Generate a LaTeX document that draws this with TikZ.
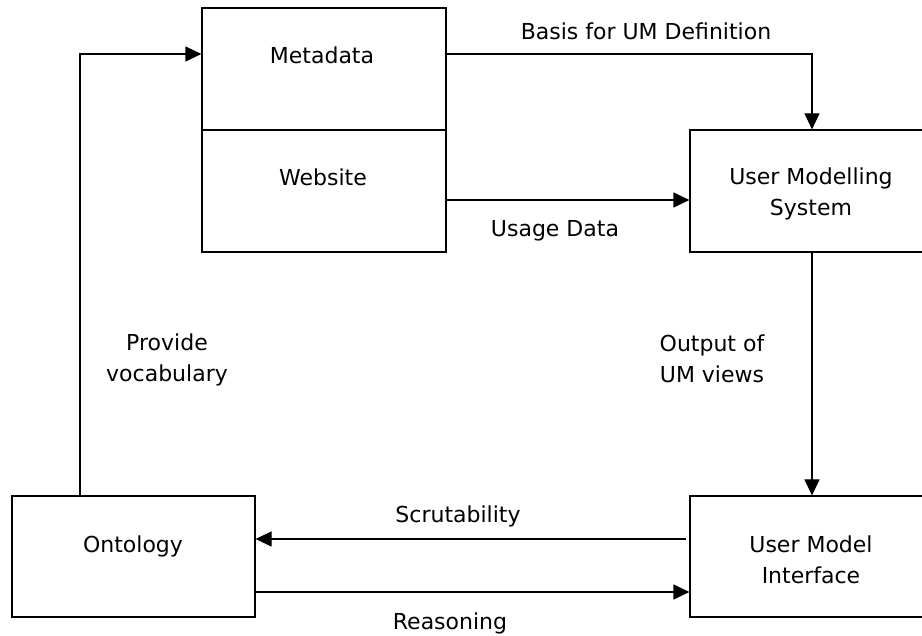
\documentclass[tikz,border=0pt]{standalone}
\usepackage{fontspec}
\setmainfont{DejaVu Sans}
\usetikzlibrary{arrows.meta}

\tikzset{
  box/.style={draw=black, line width=1.2pt, rectangle, inner sep=0pt},
  txt/.style={anchor=base, align=center, inner sep=0pt,
              font=\fontsize{22pt}{31pt}\selectfont},
  flow/.style={draw=black, line width=1.2pt,
               -{Triangle[length=16pt,width=15pt]}},
}

\begin{document}
\begin{tikzpicture}[x=1pt, y=-1pt]
  \useasboundingbox (0,0) rectangle (922,636);
  \clip (0,0) rectangle (922,636);

  % boxes
  \node[box, minimum width=244pt, minimum height=122pt] (meta) at (324,69) {};
  \node[box, minimum width=244pt, minimum height=122pt] (web)  at (324,191) {};
  \node[box, minimum width=244pt, minimum height=122pt] (ums)  at (812,191) {};
  \node[box, minimum width=244pt, minimum height=121pt] (umi)  at (812,556.5) {};
  \node[box, minimum width=243pt, minimum height=121pt] (onto) at (133.5,556.5) {};

  % box captions (multi-line nodes sit on the baseline of their last line)
  \node[txt] (metaT) at (322,64)  {Metadata};
  \node[txt] (webT)  at (323,186) {Website};
  \node[txt] (umsT)  at (811,216) {User Modelling\\System};
  \node[txt] (umiT)  at (811,583) {User Model\\Interface};
  \node[txt] (ontoT) at (133,552) {Ontology};

  % connectors
  \draw[flow] (meta.east |- 0,54) -| (ums.north);
  \draw[flow] (web.east |- 0,200) -- (ums.west |- 0,200);
  \draw[flow] (ums.south) -- (umi.north);
  \draw[flow, shorten <=3pt] (umi.west |- 0,539) -- (onto.east |- 0,539);
  \draw[flow] (onto.east |- 0,592) -- (umi.west |- 0,592);
  \draw[flow] (onto.north -| 80,0) |- (meta.west |- 0,54);

  % connector labels
  \node[txt] (lbBasis) at (646,40)  {Basis for UM Definition};
  \node[txt] (lbUsage) at (555,237) {Usage Data};
  \node[txt] (lbVocab) at (167,382) {Provide\\vocabulary};
  \node[txt] (lbOut)   at (712,383) {Output of\\UM views};
  \node[txt] (lbScrut) at (458,522) {Scrutability};
  \node[txt] (lbReas)  at (450,629) {Reasoning};
\end{tikzpicture}
\end{document}
